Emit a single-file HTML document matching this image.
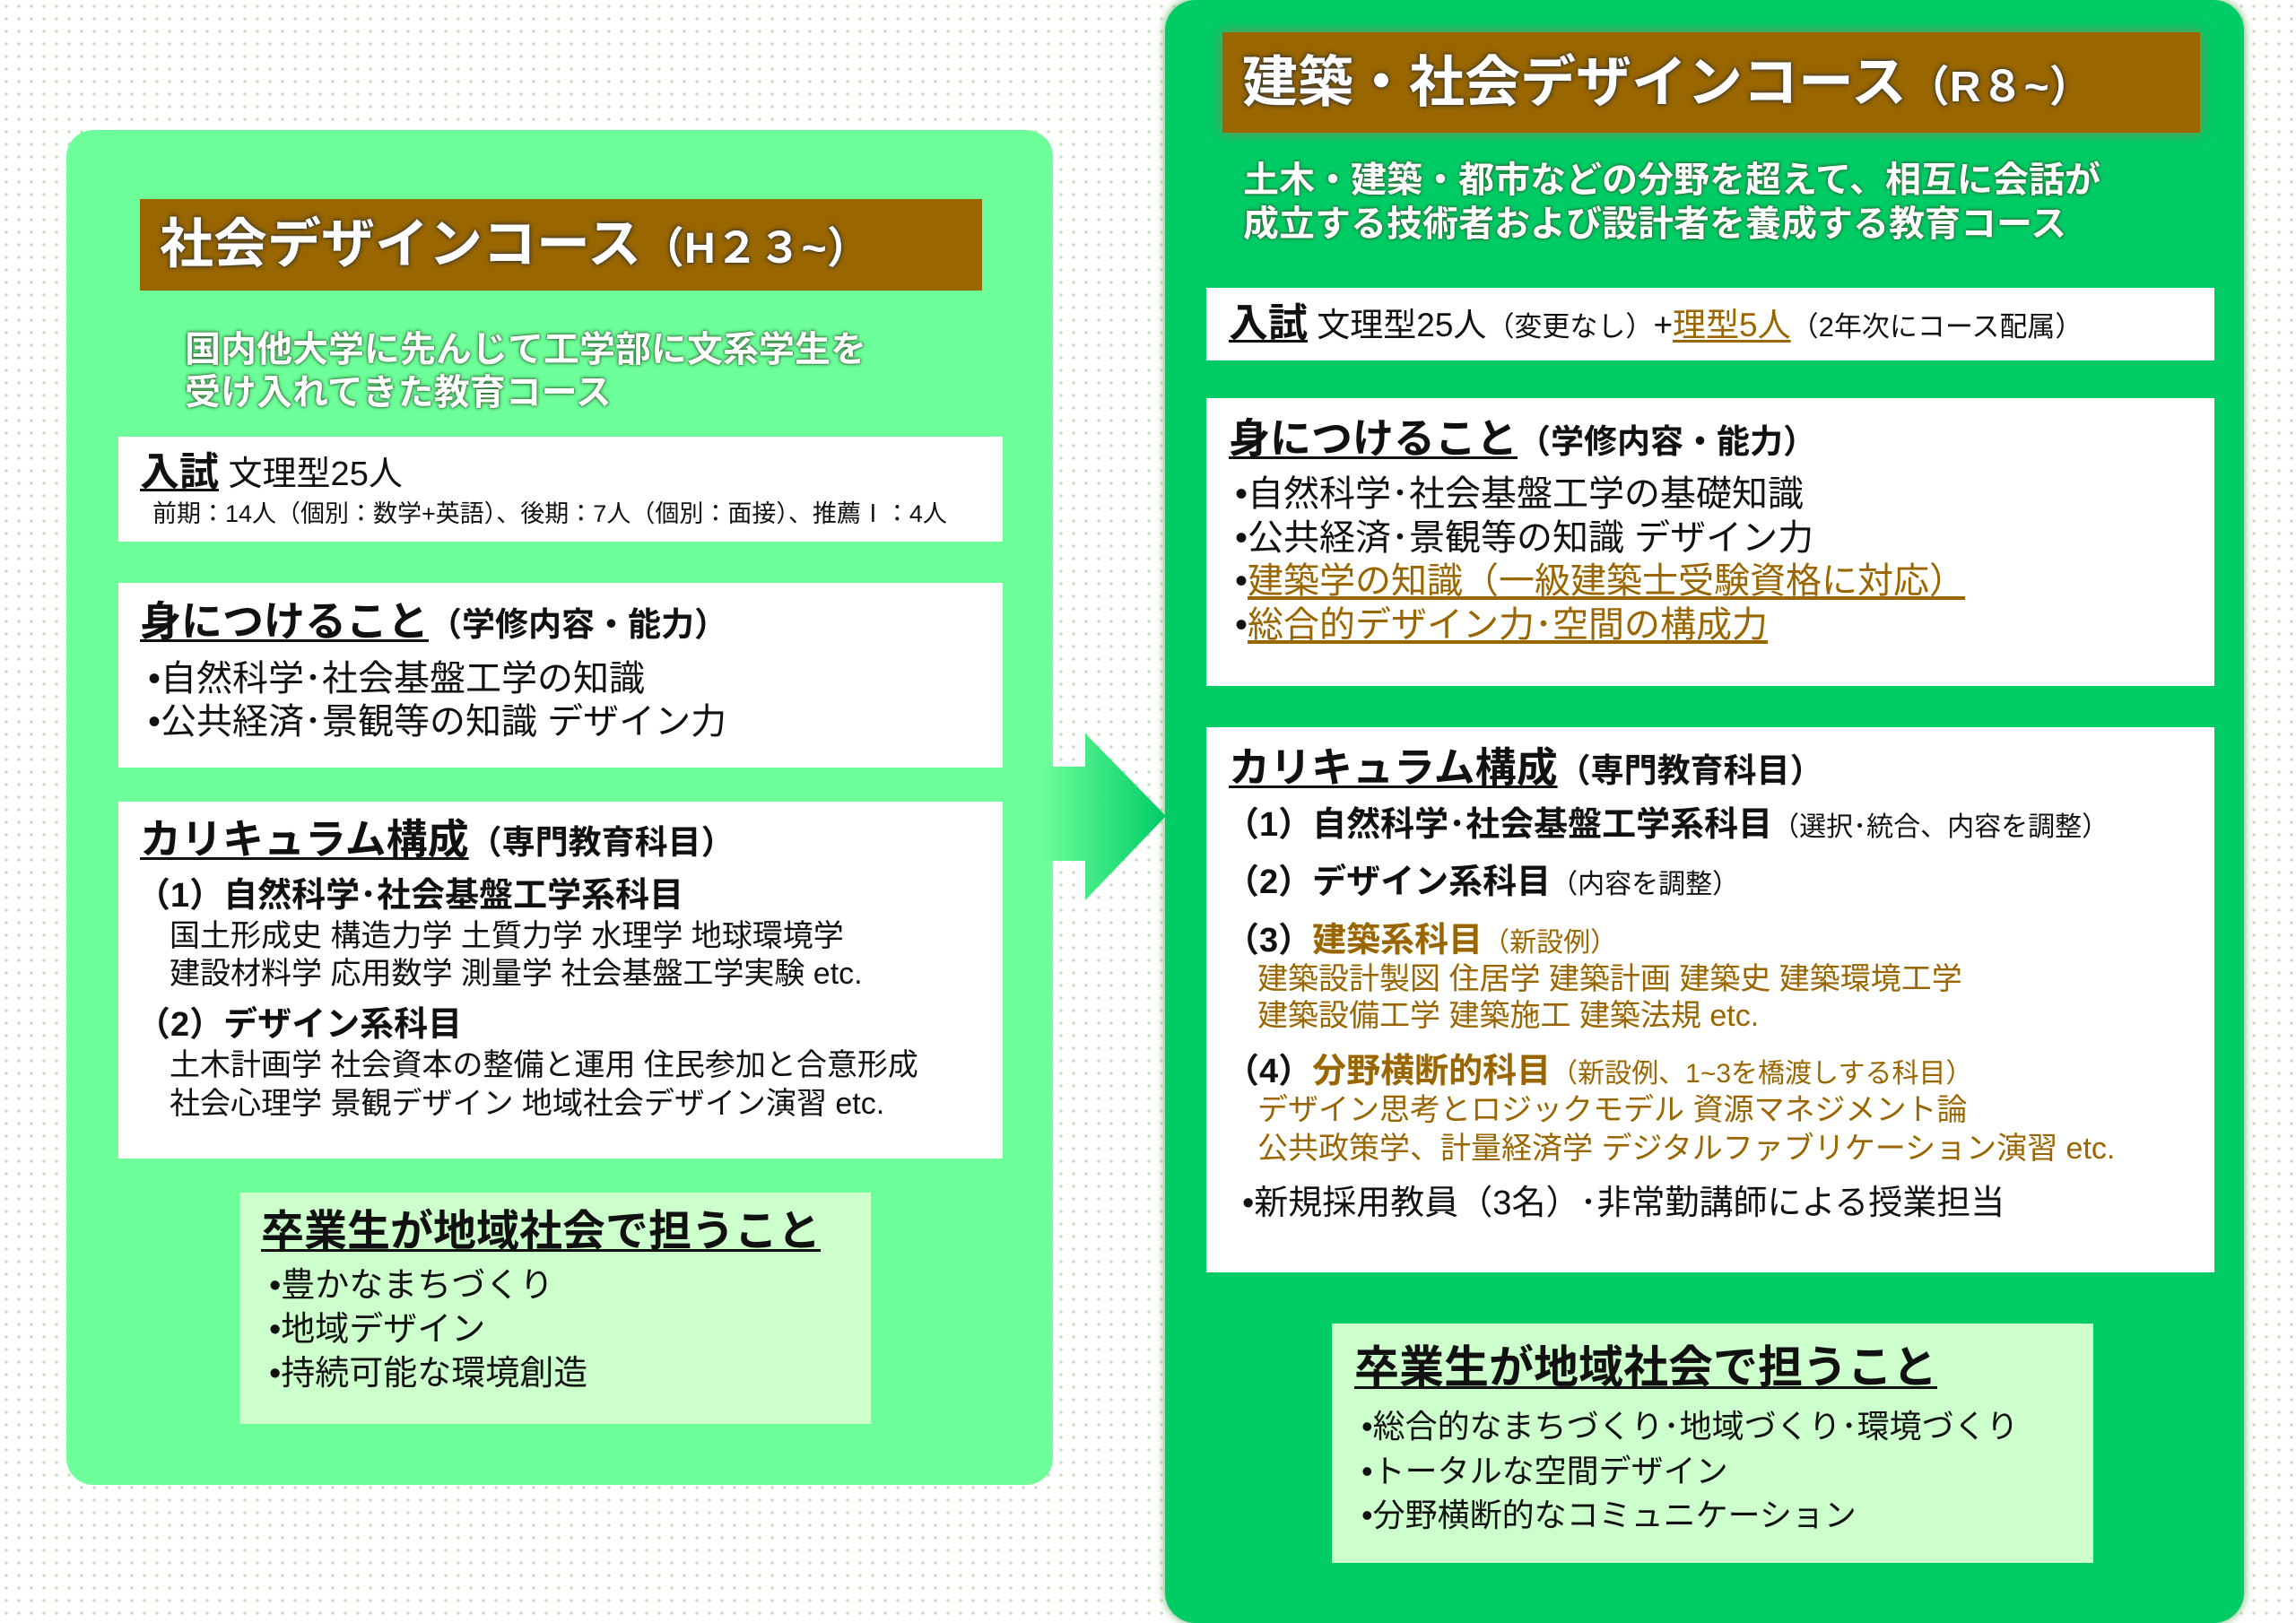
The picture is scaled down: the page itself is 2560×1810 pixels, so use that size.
<!DOCTYPE html>
<html><head><meta charset="utf-8"><style>
html,body{margin:0;padding:0}
body{width:2560px;height:1810px;position:relative;overflow:hidden;background-color:#fff;
background-image:radial-gradient(circle,#c8e0c0 1.6px,transparent 2px);background-size:14px 14px;
font-family:"Liberation Sans","Noto Sans CJK JP",sans-serif;color:#111}
.a{position:absolute;white-space:nowrap}
.panelL{position:absolute;left:74px;top:145px;width:1100px;height:1511px;background:#6cff9a;border-radius:30px}
.panelR{position:absolute;left:1299px;top:0;width:1203px;height:1810px;background:#00cc66;border-radius:34px;box-shadow:0 0 10px #6a6}
.bar{position:absolute;background:#996600}
.box{position:absolute;background:#fff}
.gbox{position:absolute;background:#ccffcc}
.t{color:#fff;font-weight:bold;text-shadow:0 0 6px #333,0 0 3px #333}
.sub{color:#fff;font-weight:bold;text-shadow:0 0 5px #2a5a2a,0 0 2px #2a5a2a}
.h{font-weight:bold;text-decoration:underline;text-decoration-thickness:3px;text-underline-offset:4px}
.br{color:#996600}
.u{text-decoration:underline;text-underline-offset:4px}
</style></head><body>
<div class="panelL"></div>
<div class="panelR"></div>
<svg class="a" style="left:1160px;top:810px" width="150" height="200">
<defs><linearGradient id="g" x1="0" x2="1"><stop offset="0" stop-color="#6cff9a"/><stop offset="1" stop-color="#00cc66"/></linearGradient></defs>
<polygon points="0,45 50,45 50,8 140,100 50,194 50,150 0,150" fill="url(#g)"/>
</svg>

<!-- LEFT -->
<div class="bar" style="left:156px;top:222px;width:939px;height:102px"></div>
<div class="a t" style="left:178px;top:240px;font-size:60px;line-height:66px">社会デザインコース<span style="font-size:48px">（H２３~）</span></div>
<div class="a sub" style="left:206px;top:366px;font-size:40px;line-height:48px">国内他大学に先んじて工学部に文系学生を<br>受け入れてきた教育コース</div>

<div class="box" style="left:132px;top:487px;width:986px;height:117px"></div>
<div class="a" style="left:156px;top:505px;font-size:38px;line-height:44px"><span class="h" style="font-size:44px">入試</span>&nbsp;文理型25人</div>
<div class="a" style="left:170px;top:558px;font-size:27px;line-height:30px">前期：14人（個別：数学+英語）、後期：7人（個別：面接）、推薦Ⅰ：4人</div>

<div class="box" style="left:132px;top:650px;width:986px;height:206px"></div>
<div class="a" style="left:156px;top:668px;font-size:37px;line-height:50px"><span class="h" style="font-size:46px">身につけること</span><b>（学修内容・能力）</b></div>
<div class="a" style="left:165px;top:733px;font-size:40px;line-height:48px">•自然科学･社会基盤工学の知識<br>•公共経済･景観等の知識 デザイン力</div>

<div class="box" style="left:132px;top:894px;width:986px;height:398px"></div>
<div class="a" style="left:156px;top:911px;font-size:37px;line-height:50px"><span class="h" style="font-size:46px">カリキュラム構成</span><b>（専門教育科目）</b></div>
<div class="a" style="left:152px;top:979px;font-size:38px;line-height:40px;font-weight:bold">（1）自然科学･社会基盤工学系科目</div>
<div class="a" style="left:189px;top:1023px;font-size:34px;line-height:42px">国土形成史 構造力学 土質力学 水理学 地球環境学<br>建設材料学 応用数学 測量学 社会基盤工学実験 etc.</div>
<div class="a" style="left:152px;top:1123px;font-size:38px;line-height:40px;font-weight:bold">（2）デザイン系科目</div>
<div class="a" style="left:189px;top:1167px;font-size:34px;line-height:43px">土木計画学 社会資本の整備と運用 住民参加と合意形成<br>社会心理学 景観デザイン 地域社会デザイン演習 etc.</div>

<div class="gbox" style="left:267px;top:1330px;width:704px;height:258px"></div>
<div class="a h" style="left:291px;top:1349px;font-size:48px;line-height:50px">卒業生が地域社会で担うこと</div>
<div class="a" style="left:300px;top:1410px;font-size:38px;line-height:49px">•豊かなまちづくり<br>•地域デザイン<br>•持続可能な環境創造</div>

<!-- RIGHT -->
<div class="bar" style="left:1363px;top:36px;width:1090px;height:112px;box-shadow:0 0 14px #885"></div>
<div class="a t" style="left:1385px;top:58px;font-size:62px;line-height:70px">建築・社会デザインコース<span style="font-size:48px">（R８~）</span></div>
<div class="a sub" style="left:1386px;top:177px;font-size:40px;line-height:49px">土木・建築・都市などの分野を超えて、相互に会話が<br>成立する技術者および設計者を養成する教育コース</div>

<div class="box" style="left:1345px;top:321px;width:1124px;height:81px"></div>
<div class="a" style="left:1370px;top:338px;font-size:37px;line-height:46px"><span class="h" style="font-size:44px">入試</span>&nbsp;文理型25人<span style="font-size:31px">（変更なし）</span>+<span class="br u">理型5人</span><span style="font-size:31px">（2年次にコース配属）</span></div>

<div class="box" style="left:1345px;top:444px;width:1124px;height:321px"></div>
<div class="a" style="left:1370px;top:464px;font-size:37px;line-height:50px"><span class="h" style="font-size:46px">身につけること</span><b>（学修内容・能力）</b></div>
<div class="a" style="left:1377px;top:527px;font-size:40px;line-height:48.5px">•自然科学･社会基盤工学の基礎知識<br>•公共経済･景観等の知識 デザイン力<br>•<span class="br u">建築学の知識（一級建築士受験資格に対応）</span><br>•<span class="br u">総合的デザイン力･空間の構成力</span></div>

<div class="box" style="left:1345px;top:811px;width:1124px;height:608px"></div>
<div class="a" style="left:1370px;top:831px;font-size:37px;line-height:50px"><span class="h" style="font-size:46px">カリキュラム構成</span><b>（専門教育科目）</b></div>
<div class="a" style="left:1366px;top:900px;font-size:38px;line-height:40px"><b>（1）自然科学･社会基盤工学系科目</b><span style="font-size:30px">（選択･統合、内容を調整）</span></div>
<div class="a" style="left:1366px;top:964px;font-size:38px;line-height:40px"><b>（2）デザイン系科目</b><span style="font-size:30px">（内容を調整）</span></div>
<div class="a" style="left:1366px;top:1029px;font-size:38px;line-height:40px"><b>（3）<span class="br">建築系科目</span></b><span class="br" style="font-size:30px">（新設例）</span></div>
<div class="a br" style="left:1402px;top:1072px;font-size:34px;line-height:41px">建築設計製図 住居学 建築計画 建築史 建築環境工学<br>建築設備工学 建築施工 建築法規 etc.</div>
<div class="a" style="left:1366px;top:1175px;font-size:38px;line-height:40px"><b>（4）<span class="br">分野横断的科目</span></b><span class="br" style="font-size:30px">（新設例、1~3を橋渡しする科目）</span></div>
<div class="a br" style="left:1402px;top:1217px;font-size:34px;line-height:43px">デザイン思考とロジックモデル 資源マネジメント論<br>公共政策学、計量経済学 デジタルファブリケーション演習 etc.</div>
<div class="a" style="left:1385px;top:1322px;font-size:38px;line-height:40px">•新規採用教員（3名）･非常勤講師による授業担当</div>

<div class="gbox" style="left:1485px;top:1476px;width:849px;height:267px"></div>
<div class="a h" style="left:1510px;top:1498px;font-size:50px;line-height:54px">卒業生が地域社会で担うこと</div>
<div class="a" style="left:1518px;top:1566px;font-size:36px;line-height:49.5px">•総合的なまちづくり･地域づくり･環境づくり<br>•トータルな空間デザイン<br>•分野横断的なコミュニケーション</div>
</body></html>
